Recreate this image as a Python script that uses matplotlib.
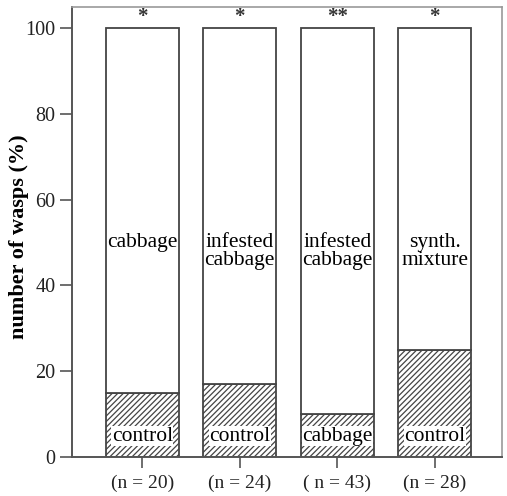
import numpy as np
import matplotlib.pyplot as plt

plt.rcParams['font.family'] = ['Liberation Serif', 'DejaVu Serif']
plt.rcParams['hatch.linewidth'] = 0.9

# dados
n_labels = ['(n = 20)', '(n = 24)', '( n = 43)', '(n = 28)']
low_vals = [15, 17, 10, 25]
low_names = ['control', 'control', 'cabbage', 'control']
up_names = ['cabbage', 'infested\ncabbage', 'infested\ncabbage', 'synth.\nmixture']
signif = ['*', '*', '**', '*']

x = np.arange(len(low_vals))
up_vals = [100 - v for v in low_vals]
cor = '#444444'

fig = plt.figure(figsize=(5.07, 4.96), dpi=100)
ax = fig.add_axes([0.142, 0.079, 0.848, 0.907])

ax.bar(x, low_vals, width=0.75, color='white', edgecolor=cor, hatch='//////', linewidth=1.3)
ax.bar(x, up_vals, width=0.75, bottom=low_vals, color='white', edgecolor=cor, linewidth=1.3)

for i in x:
    ax.text(i, 52.2, up_names[i], ha='center', va='top', fontsize=15.5, linespacing=0.95)
    ax.text(i, 4.8, low_names[i], ha='center', va='center', fontsize=15.5,
            bbox=dict(facecolor='white', edgecolor='none', pad=0.3))
    ax.text(i, 100.3, signif[i], ha='center', va='bottom', fontsize=15,
            fontweight='bold', color='#333333')

ax.set_xlim(-0.72, 3.69)
ax.set_ylim(0, 105)
ax.set_yticks([0, 20, 40, 60, 80, 100])
ax.set_xticks(x)
ax.set_xticklabels(n_labels)
ax.tick_params(axis='y', labelsize=14.5, colors='#222222', direction='out')
ax.tick_params(axis='x', labelsize=14, colors='#222222', direction='out')
ax.tick_params(axis='y', length=9, width=1.2, color='#555555', pad=3)
ax.tick_params(axis='x', length=8, width=1.2, color='#555555', pad=5)
ax.set_ylabel('number of wasps (%)', fontsize=16, fontweight='bold')
ax.yaxis.set_label_coords(-0.1, 0.49)

for s in ['left', 'bottom']:
    ax.spines[s].set_color('#555555')
    ax.spines[s].set_linewidth(1.4)
for s in ['top', 'right']:
    ax.spines[s].set_color('#999999')
    ax.spines[s].set_linewidth(1.2)

fig.savefig('out.png', dpi=100)
